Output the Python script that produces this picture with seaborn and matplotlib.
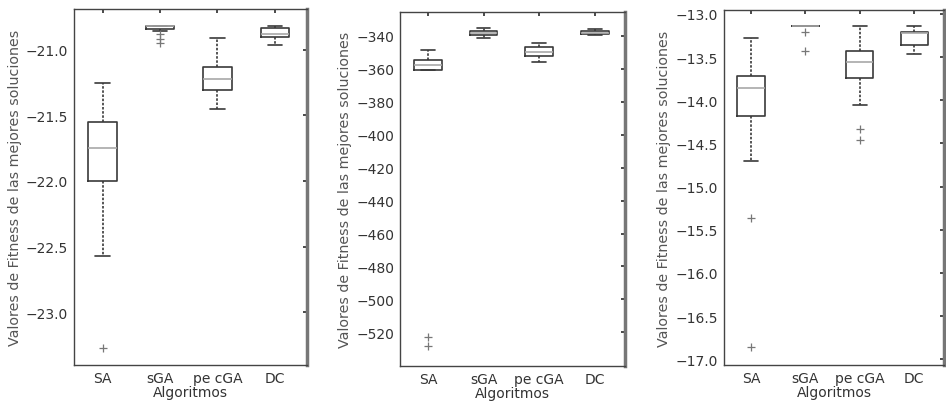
import numpy as np
import pandas as pd
import matplotlib
matplotlib.use("Agg")
import matplotlib.pyplot as plt
import seaborn as sns

# categories on the x axis
algoritmos = ["SA", "sGA", "pe cGA", "DC"]

# best-solution fitness values per algorithm, one set per problem (panel)
p1_sa = [-23.27, -22.57, -22.0, -21.85, -21.75, -21.65, -21.55, -21.40, -21.25]
p1_sga = [-20.95, -20.92, -20.88, -20.86, -20.85, -20.82, -20.82, -20.82, -20.82,
          -20.82, -20.82, -20.82, -20.82, -20.82, -20.82, -20.82, -20.82, -20.82]
p1_pecga = [-21.45, -21.38, -21.31, -21.26, -21.22, -21.18, -21.13, -21.00, -20.91]
p1_dc = [-20.96, -20.92, -20.90, -20.89, -20.88, -20.86, -20.83, -20.82, -20.82]

p2_sa = [-528.0, -523.0, -360.6, -359.0, -357.8, -356.0, -354.6, -351.0, -348.5]
p2_sga = [-341.6, -340.5, -339.6, -338.8, -338.3, -337.8, -337.0, -336.2, -335.5]
p2_pecga = [-355.8, -354.0, -352.5, -351.0, -350.0, -349.0, -347.0, -345.5, -344.6]
p2_dc = [-339.6, -339.3, -339.0, -338.5, -338.0, -337.6, -337.0, -336.5, -336.0]

p3_sa = [-16.86, -15.36, -14.71, -14.18, -14.05, -13.95, -13.86, -13.80, -13.76,
         -13.72, -13.55, -13.40, -13.28]
p3_sga = [-13.43, -13.21, -13.14, -13.14, -13.14, -13.14, -13.14, -13.14, -13.14,
          -13.14, -13.14, -13.14, -13.14]
p3_pecga = [-14.46, -14.33, -14.06, -13.74, -13.68, -13.60, -13.56, -13.50, -13.46,
            -13.43, -13.30, -13.20, -13.14]
p3_dc = [-13.46, -13.40, -13.38, -13.36, -13.30, -13.25, -13.22, -13.21, -13.21,
         -13.21, -13.18, -13.16, -13.14]

panels = [
    [p1_sa, p1_sga, p1_pecga, p1_dc],
    [p2_sa, p2_sga, p2_pecga, p2_dc],
    [p3_sa, p3_sga, p3_pecga, p3_dc],
]
ylims = [(-23.405, -20.69), (-540.4, -325.8), (-17.07, -12.95)]
yticks = [
    [-23.0, -22.5, -22.0, -21.5, -21.0],
    list(range(-520, -339, 20)),
    [-17.0, -16.5, -16.0, -15.5, -15.0, -14.5, -14.0, -13.5, -13.0],
]
ytick_fmt = ["{:.1f}", "{:.0f}", "{:.1f}"]

# axes positions in figure fractions [left, bottom, width, height]
positions = [
    [0.078, 0.098, 0.246, 0.877],
    [0.423, 0.096, 0.238, 0.871],
    [0.765, 0.098, 0.233, 0.876],
]

sns.set_theme(style="white")
plt.rcParams["font.family"] = ["DejaVu Sans"]

fig = plt.figure(figsize=(9.46, 4.06), dpi=100)

line_c = "#3a3a3a"
for vals, ylim, yt, fmt, pos in zip(panels, ylims, yticks, ytick_fmt, positions):
    ax = fig.add_axes(pos)
    df = pd.DataFrame({
        "Algoritmo": np.repeat(algoritmos, [len(v) for v in vals]),
        "Fitness": np.concatenate(vals),
    })
    sns.boxplot(data=df, x="Algoritmo", y="Fitness", order=algoritmos, ax=ax,
                fill=False, width=0.5, whis=1.5, linewidth=1.2, color=line_c,
                boxprops=dict(color=line_c),
                medianprops=dict(color="#a8a8a8", linewidth=1.2),
                whiskerprops=dict(color=line_c, linestyle=(0, (1.5, 1.0))),
                capprops=dict(color=line_c),
                flierprops=dict(marker="+", markersize=6, markeredgecolor="#777777",
                                markeredgewidth=0.9))
    ax.set_ylim(*ylim)
    ax.set_xlim(-0.5, 3.55)
    ax.set_yticks(yt)
    ax.set_yticklabels([fmt.format(v).replace("-", "\u2212") for v in yt])
    ax.set_xticks(range(len(algoritmos)))
    ax.set_xticklabels(algoritmos)
    ax.tick_params(axis="both", which="both", direction="in", length=3,
                   top=True, right=True, labelsize=10, colors="#333333",
                   labelcolor="#333333", pad=4)
    ax.set_xlabel("Algoritmos", fontsize=10, color="#333333", labelpad=0)
    ax.set_ylabel("Valores de Fitness de las mejores soluciones", fontsize=10.3,
                  color="#555555", labelpad=3)
    for side in ["left", "top", "bottom"]:
        ax.spines[side].set_color("#444444")
        ax.spines[side].set_linewidth(1.0)
    ax.spines["right"].set_color("#777777")
    ax.spines["right"].set_linewidth(2.5)

fig.savefig("out.png", dpi=100)
